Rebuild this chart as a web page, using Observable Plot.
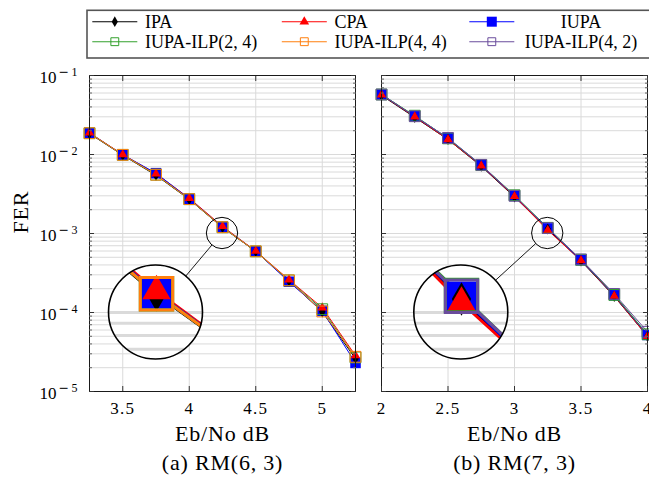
<!DOCTYPE html>
<html>
<head>
<meta charset="utf-8">
<script src="https://cdn.jsdelivr.net/npm/d3@7"></script>
<script src="https://cdn.jsdelivr.net/npm/@observablehq/plot@0.6"></script>
<style>
html,body{margin:0;padding:0;background:#fff;}
#root{position:relative;width:649px;height:485px;overflow:hidden;background:#fff;font-family:"Liberation Serif","DejaVu Serif",serif;}
#root > *{position:absolute;left:0;top:0;}
#root svg, #root svg text{font-family:"Liberation Serif","DejaVu Serif",serif !important;}
#root svg text tspan.sup-minus{font-family:"DejaVu Serif",serif !important;}
.inset{border-radius:50%;overflow:hidden;background:#fff;}
</style>
</head>
<body>
<div id="root"></div>
<script>
// ---------- data ----------
const seriesNames = ["IPA", "CPA", "IUPA", "IUPA-ILP(2, 4)", "IUPA-ILP(4, 4)", "IUPA-ILP(4, 2)"];
const seriesColors = ["#000000", "#ff0000", "#0000ff", "#33a02c", "#ff7f0e", "#6a4c9c"];

// (a) RM(6,3)
const xA = [3.25, 3.5, 3.75, 4, 4.25, 4.5, 4.75, 5, 5.25];
const feA_IPA   = [1.84e-2, 9.8e-3, 5.45e-3, 2.7e-3, 1.19e-3, 5.95e-4, 2.52e-4, 1.02e-4, 2.6e-5];
const feA_CPA   = [1.88e-2, 1.0e-2, 5.7e-3, 2.8e-3, 1.23e-3, 6.0e-4, 2.6e-4, 1.15e-4, 2.85e-5];
const feA_IUPA  = [1.87e-2, 9.9e-3, 5.8e-3, 2.75e-3, 1.21e-3, 5.95e-4, 2.45e-4, 1.05e-4, 2.3e-5];
const feA_ILP24 = [1.86e-2, 9.9e-3, 5.55e-3, 2.72e-3, 1.2e-3, 5.95e-4, 2.55e-4, 1.1e-4, 2.7e-5];
const feA_ILP44 = [1.86e-2, 9.9e-3, 5.55e-3, 2.72e-3, 1.2e-3, 5.95e-4, 2.55e-4, 1.03e-4, 2.75e-5];

// (b) RM(7,3)
const xB = [2, 2.25, 2.5, 2.75, 3, 3.25, 3.5, 3.75, 4];
const feB_IPA   = [5.6e-2, 2.95e-2, 1.55e-2, 7.1e-3, 2.9e-3, 1.14e-3, 4.5e-4, 1.6e-4, 5.0e-5];
const feB_CPA   = [5.7e-2, 3.0e-2, 1.55e-2, 7.2e-3, 2.95e-3, 1.10e-3, 4.55e-4, 1.62e-4, 5.0e-5];
const feB_IUPA  = [5.75e-2, 3.05e-2, 1.6e-2, 7.3e-3, 3.0e-3, 1.16e-3, 4.6e-4, 1.65e-4, 5.2e-5];
const feB_ILP24 = [5.75e-2, 3.1e-2, 1.6e-2, 7.35e-3, 3.05e-3, 1.18e-3, 4.65e-4, 1.67e-4, 5.3e-5];
const feB_ILP42 = [5.75e-2, 3.05e-2, 1.62e-2, 7.4e-3, 3.0e-3, 1.17e-3, 4.7e-4, 1.72e-4, 5.7e-5];

const xTicksA = [3.5, 4, 4.5, 5];
const xTicksB = [2, 2.5, 3, 3.5, 4];
const yMajor = [1e-5, 1e-4, 1e-3, 1e-2, 1e-1];
const yMinor = [-5, -4, -3, -2].flatMap(e => [2, 3, 4, 5, 6, 7, 8, 9].map(k => k * Math.pow(10, e)));
const xLabel = "Eb/No dB";
const yLabel = "FER";
const captionA = "(a) RM(6, 3)";
const captionB = "(b) RM(7, 3)";
// spy: zoomed region and where its magnified view is placed
const spyA = {x: 4.25, y: 1e-3, nodeX: 3.75, nodeY: 1e-4};
const spyB = {x: 3.25, y: 1e-3, nodeX: 2.6, nodeY: 1e-4};

// ---------- styles ----------
const FONT = '"Liberation Serif", "DejaVu Serif", serif';
const colorOf = Object.fromEntries(seriesNames.map((n, i) => [n, seriesColors[i]]));
const markOf = {
  "IPA": {symbol: "diamond", r: 3.4, fill: colorOf["IPA"], stroke: "none", sw: 0},
  "CPA": {symbol: "triangle", r: 3.5, fill: colorOf["CPA"], stroke: "none", sw: 0},
  "IUPA": {symbol: "square", r: 5.95, fill: colorOf["IUPA"], stroke: "none", sw: 0},
  "IUPA-ILP(2, 4)": {symbol: "square", r: 6.1, fill: "none", stroke: colorOf["IUPA-ILP(2, 4)"], sw: 1},
  "IUPA-ILP(4, 4)": {symbol: "square", r: 6.1, fill: "none", stroke: colorOf["IUPA-ILP(4, 4)"], sw: 1},
  "IUPA-ILP(4, 2)": {symbol: "square", r: 6.1, fill: "none", stroke: colorOf["IUPA-ILP(4, 2)"], sw: 1}
};
const dotOrder = ["IUPA", "IPA", "CPA", "IUPA-ILP(2, 4)", "IUPA-ILP(4, 4)", "IUPA-ILP(4, 2)"];

const panelA = {xs: xA, series: {"IPA": feA_IPA, "CPA": feA_CPA, "IUPA": feA_IUPA, "IUPA-ILP(2, 4)": feA_ILP24, "IUPA-ILP(4, 4)": feA_ILP44},
  xDomain: [3.25, 5.25], xTicks: xTicksA, marginLeft: 89, marginRight: 649 - 355, yLabels: true, caption: captionA, spy: spyA};
const panelB = {xs: xB, series: {"IPA": feB_IPA, "CPA": feB_CPA, "IUPA": feB_IUPA, "IUPA-ILP(2, 4)": feB_ILP24, "IUPA-ILP(4, 2)": feB_ILP42},
  xDomain: [2, 4], xTicks: xTicksB, marginLeft: 381, marginRight: 2, yLabels: false, caption: captionB, spy: spyB};

const rowsOf = (xs, ys) => xs.map((x, i) => ({x, y: ys[i]}));
const GRID = "#dadada";

function seriesMarks(panel, k, clip) {
  const names = seriesNames.filter(n => panel.series[n]);
  const lines = names.map(n => Plot.line(rowsOf(panel.xs, panel.series[n]), {
    x: "x", y: "y", stroke: colorOf[n], strokeWidth: 1 * k, clip
  }));
  const dots = dotOrder.filter(n => panel.series[n]).map(n => {
    const m = markOf[n];
    return Plot.dot(rowsOf(panel.xs, panel.series[n]), {
      x: "x", y: "y", symbol: m.symbol, r: m.r * k, fill: m.fill,
      stroke: m.stroke, strokeWidth: m.sw * k, clip
    });
  });
  return [...lines, ...dots];
}

function mainPlot(panel) {
  const marks = [
    Plot.gridX(panel.xTicks, {stroke: GRID, strokeOpacity: 1, strokeWidth: 1}),
    Plot.gridY([...yMinor, ...yMajor], {stroke: GRID, strokeOpacity: 1, strokeWidth: 1}),
    ...seriesMarks(panel, 1, false),
    Plot.frame({stroke: "#1a1a1a", strokeWidth: 1}),
    Plot.axisX(panel.xTicks, {anchor: "bottom", tickSize: -5, fill: "none", label: null, stroke: "#333"}),
    Plot.axisX(panel.xTicks, {anchor: "top", tickSize: -5, fill: "none", label: null, stroke: "#333"}),
    Plot.axisY(yMajor, {anchor: "left", tickSize: -5, fill: "none", label: null, stroke: "#333"}),
    Plot.axisY(yMajor, {anchor: "right", tickSize: -5, fill: "none", label: null, stroke: "#333"}),
    Plot.axisY(yMinor, {anchor: "left", tickSize: -3, fill: "none", label: null, stroke: "#666"}),
    Plot.axisY(yMinor, {anchor: "right", tickSize: -3, fill: "none", label: null, stroke: "#666"}),
    Plot.axisX(panel.xTicks, {anchor: "bottom", tickSize: 0, tickPadding: 10, fontSize: 17, label: null,
      fontFamily: FONT, tickFormat: d => String(d)}),
    Plot.text([xLabel], {frameAnchor: "bottom", dy: 49.3, fontSize: 22, fontFamily: FONT}),
    Plot.text([panel.caption], {frameAnchor: "bottom", dy: 78.7, fontSize: 22, fontFamily: FONT})
  ];
  if (panel.yLabels) {
    marks.push(Plot.axisY(yMajor, {anchor: "left", tickSize: 0, tickPadding: 12, fontSize: 17, dy: 2.5, label: null,
      fontFamily: FONT, tickFormat: d => String(-Math.round(Math.log10(d)))}));
    marks.push(Plot.text([yLabel], {frameAnchor: "left", dx: -69, rotate: -90, fontSize: 22, fontFamily: FONT}));
  }
  const p = Plot.plot({
    width: 649, height: 485,
    marginLeft: panel.marginLeft, marginRight: panel.marginRight, marginTop: 75, marginBottom: 94,
    x: {domain: panel.xDomain},
    y: {type: "log", domain: [1e-5, 1e-1]},
    style: {background: "transparent", fontFamily: FONT, color: "#000", overflow: "visible"},
    marks
  });
  // letter spacing of the larger labels and x tick labels
  p.querySelectorAll('g[aria-label="x-axis tick label"] text').forEach(t => t.setAttribute("letter-spacing", "1.2"));
  p.querySelectorAll('g[aria-label="text"] text').forEach(t => t.setAttribute("letter-spacing", "0.8"));
  // exponent styling of y tick labels: 10^{-k}
  const ns = "http://www.w3.org/2000/svg";
  p.querySelectorAll('g[aria-label="y-axis tick label"] text').forEach(t => {
    const e = t.textContent;
    t.textContent = "10";
    const m = document.createElementNS(ns, "tspan");
    m.setAttribute("class", "sup-minus");
    m.setAttribute("dy", "-7.5"); m.setAttribute("dx", "2");
    m.setAttribute("font-size", "12.5");
    m.textContent = "\u2212";
    const d = document.createElementNS(ns, "tspan");
    d.setAttribute("dx", "2.5"); d.setAttribute("font-size", "12");
    d.textContent = e;
    t.appendChild(m); t.appendChild(d);
  });
  return p;
}

const root = document.getElementById("root");
const plots = [panelA, panelB].map(panel => {
  const p = mainPlot(panel);
  root.appendChild(p);
  return {panel, p};
});

// ---------- spy (magnified circles) ----------
const RSMALL = 47 / 3, MAG = 3, RBIG = RSMALL * MAG;
const overlay = d3.create("svg").attr("width", 649).attr("height", 485).style("overflow", "visible");
plots.forEach(({panel, p}) => {
  const sx = p.scale("x"), sy = p.scale("y");
  const X = d3.scaleLinear(sx.domain, sx.range);
  const Y = d3.scaleLog(sy.domain, sy.range);
  const s = panel.spy;
  const cx = X(s.x), cy = Y(s.y), bx = X(s.nodeX), by = Y(s.nodeY);
  const inset = Plot.plot({
    width: 2 * RBIG, height: 2 * RBIG, margin: 0,
    x: {domain: [X.invert(cx - RSMALL), X.invert(cx + RSMALL)], axis: null},
    y: {type: "log", domain: [Y.invert(cy + RSMALL), Y.invert(cy - RSMALL)], axis: null},
    style: {background: "white", overflow: "hidden"},
    marks: [
      Plot.gridX(panel.xTicks, {stroke: GRID, strokeOpacity: 1, strokeWidth: MAG}),
      Plot.gridY([...yMinor, ...yMajor], {stroke: GRID, strokeOpacity: 1, strokeWidth: MAG}),
      ...seriesMarks(panel, MAG, true)
    ]
  });
  const wrap = document.createElement("div");
  wrap.className = "inset";
  wrap.style.left = (bx - RBIG) + "px";
  wrap.style.top = (by - RBIG) + "px";
  wrap.style.width = (2 * RBIG) + "px";
  wrap.style.height = (2 * RBIG) + "px";
  wrap.appendChild(inset);
  root.appendChild(wrap);

  const dx = bx - cx, dy = by - cy, L = Math.hypot(dx, dy), ux = dx / L, uy = dy / L;
  overlay.append("circle").attr("cx", cx).attr("cy", cy).attr("r", RSMALL)
    .attr("fill", "none").attr("stroke", "#000").attr("stroke-width", 1);
  overlay.append("line")
    .attr("x1", cx + ux * RSMALL).attr("y1", cy + uy * RSMALL)
    .attr("x2", bx - ux * RBIG).attr("y2", by - uy * RBIG)
    .attr("stroke", "#000").attr("stroke-width", 0.9);
  overlay.append("circle").attr("cx", bx).attr("cy", by).attr("r", RBIG)
    .attr("fill", "none").attr("stroke", "#000").attr("stroke-width", 1.6);
});
root.appendChild(overlay.node());

// ---------- legend ----------
const legend = d3.create("svg").attr("width", 649).attr("height", 70)
  .style("font-size", "18px");
legend.append("rect").attr("x", 87).attr("y", 10.3).attr("width", 620).attr("height", 47.7)
  .attr("fill", "#fff").attr("stroke", "#555").attr("stroke-width", 1.6);
const colX = [92.3, 281.8, 469.3];
const rowY = [21.7, 41.7];
const legendSym = {
  "IPA": {type: d3.symbolDiamond, size: 33},
  "CPA": {type: d3.symbolTriangle, size: 40},
  "IUPA": {type: d3.symbolSquare, size: 100},
  "IUPA-ILP(2, 4)": {type: d3.symbolSquare, size: 62},
  "IUPA-ILP(4, 4)": {type: d3.symbolSquare, size: 62},
  "IUPA-ILP(4, 2)": {type: d3.symbolSquare, size: 62}
};
seriesNames.forEach((n, i) => {
  const c = i % 3, r = Math.floor(i / 3);
  const x0 = colX[c], y0 = rowY[r], col = colorOf[n], m = markOf[n];
  legend.append("line").attr("x1", x0).attr("x2", x0 + 45).attr("y1", y0).attr("y2", y0)
    .attr("stroke", col).attr("stroke-width", 1.1);
  legend.append("path").attr("transform", `translate(${x0 + 22.5},${y0})`)
    .attr("d", d3.symbol(legendSym[n].type, legendSym[n].size)())
    .attr("fill", m.fill).attr("stroke", m.stroke).attr("stroke-width", m.sw);
  const t = legend.append("text").attr("y", y0 + 6.6).text(n).attr("fill", "#000");
  if (c === 2) t.attr("x", 581).attr("text-anchor", "middle");
  else t.attr("x", x0 + 52.7);
});
root.appendChild(legend.node());
</script>
</body>
</html>
